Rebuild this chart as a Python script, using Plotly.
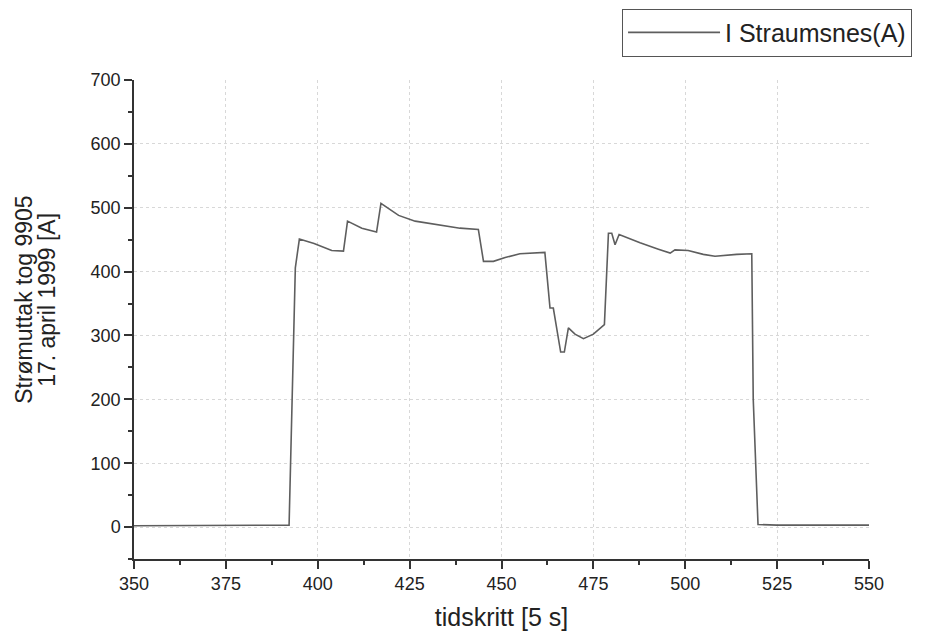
import plotly.graph_objects as go

# time step (tidskritt [5 s]) and current (A)
t = [350, 360, 370, 380, 390, 392.2, 393.9, 395.0, 399.0, 403.8, 407.0, 408.1, 412.0, 416.0,
     417.2, 422.0, 426.5, 432.4, 438.7, 443.7, 445.1, 447.8, 451.0, 455.0, 458.5, 461.8,
     463.2, 464.1, 466.1, 467.1, 468.2, 470.0, 472.3, 475.0, 478.0, 479.1, 480.0, 480.9,
     482.0, 487.7, 492.7, 495.9, 497.2, 500.8, 504.9, 508.1, 514.0, 516.3, 518.1, 518.5,
     519.4, 519.8, 525, 535, 550]
current = [2, 2, 2, 2, 2, 3, 406, 451, 444, 433, 432, 479, 468, 462,
           507, 488, 479, 474, 468, 466, 416, 416, 422, 428, 429, 430,
           343, 343, 274, 274, 312, 302, 295, 302, 317, 460, 460, 442,
           458, 445, 435, 429, 434, 433, 427, 424, 427, 428, 428, 200,
           43, 4, 3, 3, 3]

series_name = "I Straumsnes(A)"
x_ticks = [350, 375, 400, 425, 450, 475, 500, 525, 550]
y_ticks = [0, 100, 200, 300, 400, 500, 600, 700]
y_title_lines = ["Strømuttak tog 9905", "17. april 1999 [A]"]
x_title = "tidskritt [5 s]"

font_family = "Liberation Sans, Arial, sans-serif"
text_color = "#222"

fig = go.Figure()
fig.add_trace(go.Scatter(x=t, y=current, mode="lines", name=series_name,
                         line=dict(color="#5e5e5e", width=1.6)))

fig.update_layout(
    width=936, height=636,
    margin=dict(l=134, r=67, t=80, b=77, autoexpand=False),
    paper_bgcolor="white", plot_bgcolor="white",
    font=dict(family=font_family, color=text_color, size=19),
    showlegend=True,
    legend=dict(x=0.664, y=1.149, xanchor="left", yanchor="top",
                bordercolor="#555", borderwidth=1, bgcolor="white",
                font=dict(size=25, family=font_family, color=text_color),
                itemwidth=92),
)

fig.update_xaxes(
    range=[350, 550], tickvals=x_ticks, ticktext=[str(v) for v in x_ticks],
    showline=True, linecolor="#333", linewidth=1.5, automargin=False,
    ticks="outside", ticklen=8, tickwidth=1.5, tickcolor="#333",
    minor=dict(dtick=12.5, ticks="outside", ticklen=4, tickcolor="#333", showgrid=False),
    showgrid=True, gridcolor="#d8d8d8", griddash="dot", gridwidth=1,
    zeroline=False, tickfont=dict(size=18),
    title=dict(text=x_title, font=dict(size=25), standoff=15),
)
fig.update_yaxes(
    range=[-50, 700], tickvals=y_ticks, ticktext=[str(v) for v in y_ticks],
    showline=True, linecolor="#333", linewidth=1.5, automargin=False,
    ticks="outside", ticklen=8, tickwidth=1.5, tickcolor="#333",
    minor=dict(dtick=50, ticks="outside", ticklen=4, tickcolor="#333", showgrid=False),
    showgrid=True, gridcolor="#d8d8d8", griddash="dot", gridwidth=1,
    zeroline=False, tickfont=dict(size=18),
)

# two-line y-axis title, placed as rotated annotations for tight line spacing
for xp, line in zip([-0.1497, -0.1184], y_title_lines):
    fig.add_annotation(text=line, xref="paper", yref="paper", x=xp, y=0.541,
                       xanchor="center", yanchor="middle", textangle=-90,
                       showarrow=False, font=dict(size=23, family=font_family, color=text_color))

fig.write_html("out.html")
